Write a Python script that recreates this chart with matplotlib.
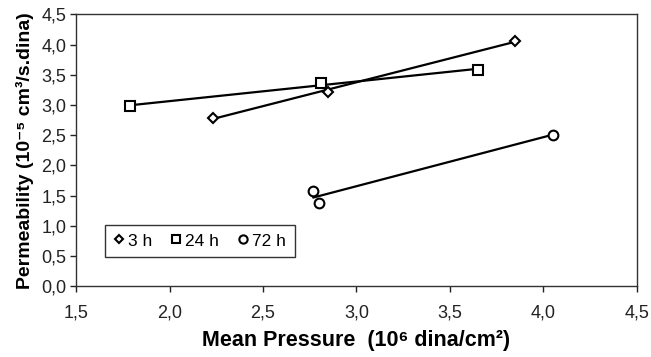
"""Permeability vs mean pressure, three curing times."""

import matplotlib
import numpy as np

matplotlib.use("Agg")
from matplotlib import pyplot as plt

# data
x_3h = [2.23, 2.85, 3.85]
y_3h = [2.79, 3.22, 4.06]
x_24h = [1.79, 2.81, 3.65]
y_24h = [2.98, 3.36, 3.58]
x_72h = [2.77, 2.80, 4.05]
y_72h = [1.58, 1.38, 2.51]

series_labels = ["3 h", "24 h", "72 h"]
x_ticks = [1.5, 2.0, 2.5, 3.0, 3.5, 4.0, 4.5]
x_ticklabels = ["1,5", "2,0", "2,5", "3,0", "3,5", "4,0", "4,5"]
y_ticks = [0.0, 0.5, 1.0, 1.5, 2.0, 2.5, 3.0, 3.5, 4.0, 4.5]
y_ticklabels = ["0,0", "0,5", "1,0", "1,5", "2,0", "2,5", "3,0", "3,5", "4,0", "4,5"]

plt.rcParams["font.family"] = ["Liberation Sans", "DejaVu Sans"]

figure = plt.figure(figsize=(6.51, 3.57), dpi=100)
axis = figure.add_axes([0.117, 0.198, 0.861, 0.762])

markers = ["D", "s", "o"]
sizes = [5.0, 7.0, 7.0]
for xs, ys, label, marker, size in zip(
    (x_3h, x_24h, x_72h), (y_3h, y_24h, y_72h), series_labels, markers, sizes
):
    xs = np.asarray(xs)
    ys = np.asarray(ys)
    slope, intercept = np.polyfit(xs, ys, 1)
    ends = np.array([xs.min(), xs.max()])
    axis.plot(ends, intercept + slope * ends, color="black", linewidth=1.6)
    axis.plot(
        xs,
        ys,
        linestyle="none",
        marker=marker,
        markersize=size,
        markerfacecolor="white",
        markeredgecolor="black",
        markeredgewidth=1.5,
        label=label,
    )

axis.set_xlim(1.5, 4.5)
axis.set_ylim(0.0, 4.5)
axis.set_xticks(x_ticks)
axis.set_xticklabels(x_ticklabels)
axis.set_yticks(y_ticks)
axis.set_yticklabels(y_ticklabels)
axis.tick_params(direction="out", length=4, width=1, labelsize=13, colors="#222222")
axis.tick_params(axis="x", pad=9)
axis.tick_params(axis="y", pad=3)
for spine in axis.spines.values():
    spine.set_linewidth(1.0)
    spine.set_color("#333333")

axis.set_xlabel("Mean Pressure  (10\u2076 dina/cm\u00b2)", fontsize=15.5, fontweight="bold", labelpad=6)
axis.set_ylabel(
    "Permeability (10\u207b\u2075 cm\u00b3/s.dina)", fontsize=14, fontweight="bold", labelpad=5
)

legend = axis.legend(
    ncol=3,
    loc="lower left",
    bbox_to_anchor=(0.052, 0.107),
    borderaxespad=0.0,
    fontsize=12.5,
    frameon=True,
    fancybox=False,
    edgecolor="black",
    handlelength=0.6,
    handletextpad=0.2,
    columnspacing=1.1,
    borderpad=0.5,
    markerscale=0.85,
)
legend.get_frame().set_linewidth(1.0)

figure.savefig("out.png", dpi=100)
plt.close(figure)
